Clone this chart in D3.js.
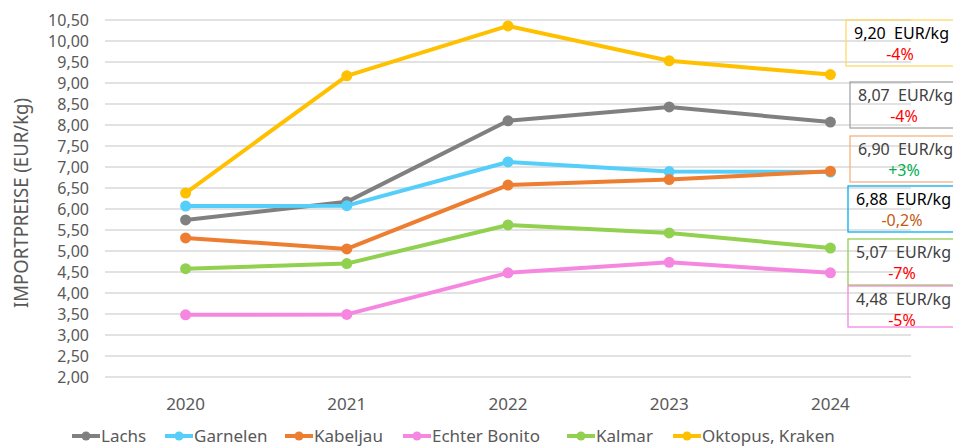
<!DOCTYPE html>
<html><head><meta charset="utf-8">
<script src="https://cdn.jsdelivr.net/npm/d3@7"></script>
<style>body{margin:0;background:#fff;} text{font-family:"Noto Sans",sans-serif;}</style>
</head><body><svg id="c" width="953" height="446"></svg>
<script>
const years = ["2020","2021","2022","2023","2024"];
const seriesNames = ["Lachs","Garnelen","Kabeljau","Echter Bonito","Kalmar","Oktopus, Kraken"];
const lachs    = [5.74, 6.17, 8.10, 8.43, 8.07];
const garnelen = [6.07, 6.08, 7.12, 6.89, 6.88];
const kabeljau = [5.31, 5.05, 6.57, 6.70, 6.90];
const bonito   = [3.48, 3.49, 4.48, 4.73, 4.48];
const kalmar   = [4.58, 4.70, 5.62, 5.43, 5.07];
const oktopus  = [6.38, 9.17, 10.36, 9.53, 9.20];
const yTicks = [2,2.5,3,3.5,4,4.5,5,5.5,6,6.5,7,7.5,8,8.5,9,9.5,10,10.5];
const boxValues = ["9,20","8,07","6,90","6,88","5,07","4,48"];
const boxChanges = ["-4%","-4%","+3%","-0,2%","-7%","-5%"];
const boxSeries = ["Oktopus, Kraken","Lachs","Kabeljau","Garnelen","Kalmar","Echter Bonito"];

const colors = {"Lachs":"#808080","Garnelen":"#55CFFA","Kabeljau":"#ED7D31","Echter Bonito":"#F587E0","Kalmar":"#92D050","Oktopus, Kraken":"#FFC000"};
const boxBorder = {"Lachs":"#A6A6A6","Garnelen":"#00B0F0","Kabeljau":"#F4B183","Echter Bonito":"#F587E0","Kalmar":"#92D050","Oktopus, Kraken":"#FFD966"};
const values = [lachs,garnelen,kabeljau,bonito,kalmar,oktopus];

const svg = d3.select("#c");
const x = d3.scaleBand().domain(years).range([105,911]);
const y = d3.scaleLinear().domain([2,10.5]).range([377,20]);
const cx = d => x(d) + x.bandwidth()/2;

// gridlines
svg.append("g").selectAll("line").data(yTicks).join("line")
  .attr("x1",105).attr("x2",911).attr("y1",d=>y(d)).attr("y2",d=>y(d))
  .attr("stroke","#D9D9D9").attr("stroke-width",1.3);

// y axis
const yAxis = d3.axisLeft(y).tickValues(yTicks).tickSize(0).tickPadding(0)
  .tickFormat(d=>d3.format(".2f")(d).replace(".",","));
const ya = svg.append("g").attr("transform","translate(89,0)").call(yAxis);
ya.select(".domain").remove();
ya.selectAll("text").attr("fill","#595959").style("font-size","16px").attr("dy","0.35em").style("font-family","'Noto Sans',sans-serif");

// x axis
const xAxis = d3.axisBottom(x).tickSize(0).tickPadding(0);
const xa = svg.append("g").attr("transform","translate(0,396)").call(xAxis);
xa.select(".domain").remove();
xa.selectAll("text").attr("fill","#595959").style("font-size","17px").attr("dy","0.35em").attr("y",8).style("font-family","'Noto Sans',sans-serif");

// y title
svg.append("text").attr("transform","translate(28,203) rotate(-90)")
  .attr("text-anchor","middle").attr("fill","#595959").style("font-size","20px")
  .attr("textLength",210).attr("lengthAdjust","spacingAndGlyphs")
  .text("IMPORTPREISE (EUR/kg)");

// lines
const line = d3.line().x((d,i)=>cx(years[i])).y(d=>y(d));
seriesNames.forEach((name,si)=>{
  const g = svg.append("g");
  g.append("path").datum(values[si]).attr("d",line).attr("fill","none")
    .attr("stroke",colors[name]).attr("stroke-width",4).attr("stroke-linejoin","round");
  g.selectAll("circle").data(values[si]).join("circle")
    .attr("cx",(d,i)=>cx(years[i])).attr("cy",d=>y(d)).attr("r",5.5).attr("fill",colors[name]);
});

// boxes
const boxTops = [20,82,136,186,239,286];
const boxLefts = [846,850,850,848,848,848];
const boxH = [46,46,46,46,46,41];
const changeColor = c => c==="+3%" ? "#00B050" : (c==="-0,2%" ? "#C55A11" : "#FF0000");
boxValues.forEach((v,i)=>{
  const g = svg.append("g").attr("transform",`translate(${boxLefts[i]},${boxTops[i]})`);
  g.append("rect").attr("x",0).attr("y",0).attr("width",130).attr("height",boxH[i])
    .attr("fill","none").attr("stroke",boxBorder[boxSeries[i]]).attr("stroke-width",1.3);
  g.append("text").attr("x",8).attr("y",18.5).attr("fill", (i===0||i===3)?"#000":"#404040")
    .style("font-size","16px").attr("textLength",95).attr("lengthAdjust","spacingAndGlyphs")
    .attr("xml:space","preserve").text(v+"  EUR/kg");
  g.append("text").attr("x",54).attr("y",40).attr("text-anchor","middle").attr("fill",changeColor(boxChanges[i]))
    .style("font-size","16px").text(boxChanges[i]);
});

// legend
const legX = [72,165,285,403,567,673];
seriesNames.forEach((name,i)=>{
  const g = svg.append("g").attr("transform",`translate(${legX[i]},436)`);
  g.append("line").attr("x1",0).attr("x2",28).attr("y1",0).attr("y2",0).attr("stroke",colors[name]).attr("stroke-width",4);
  g.append("circle").attr("cx",14).attr("cy",0).attr("r",4.5).attr("fill",colors[name]);
  g.append("text").attr("x",29).attr("y",0).attr("dy","0.35em").attr("fill","#595959").style("font-size","17px").text(name);
});
</script></body></html>
